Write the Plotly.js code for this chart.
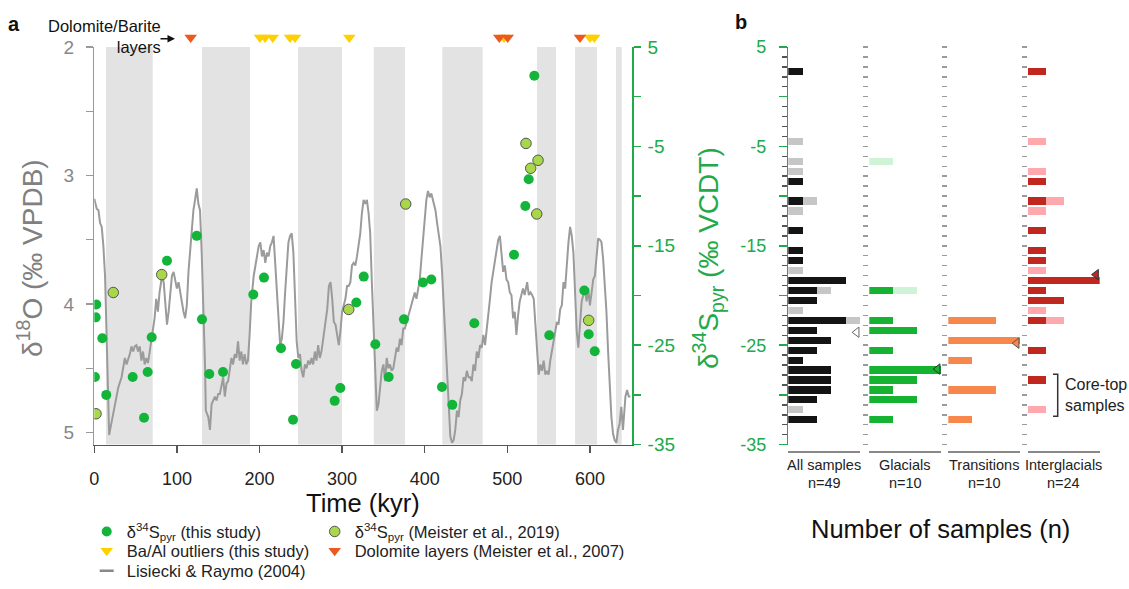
<!DOCTYPE html>
<html><head><meta charset="utf-8">
<script src="https://cdn.plot.ly/plotly-3.0.1.min.js"></script>
<style>html,body{margin:0;padding:0;background:#fff}#chart{width:1129px;height:589px}</style>
</head><body><div id="chart"></div>
<script>
// ---------- Panel a data ----------
const lrAge = [0,3,5,7,9,11,13,15,17,18,20,22,25,29,33,35,37,39,43,45,47,49,51,53,55,57,59,61,63,65,
67,69,71,73,75,77,79,82,84,86,88,90,92,94,96,98,100,102,104,106,108,110,112,114,116,118,120,122,124,126,
128,130,132,134,135,138,140,142,144,146,148,150,152,154,156,158,160,162,164,166,168,170,172,174,176,178,180,182,184,186,
188,190,193,195,197,199,201,203,205,207,209,211,213,215,217,219,221,223,225,227,229,231,233,235,237,239,241,243,245,247,
249,251,253,255,257,259,261,263,265,267,269,271,273,275,277,280,282,284,286,288,290,292,294,296,298,300,302,304,306,308,
310,312,314,316,318,320,322,324,
326,328,330,332,334,336,338,340,342,344,346,348,350,352,354,356,358,360,362,364,366,368,370,372,374,376,378,380,382,384,
386,388,390,392,394,396,398,400,402,404,406,408,410,413,415,417,419,421,423,425,427,429,431,433,435,437,439,441,443,445,
447,449,451,453,455,457,459,461,463,465,467,469,471,473,475,477,479,481,483,485,487,489,491,493,495,497,499,501,503,505,
507,509,511,513,515,517,519,521,524,526,528,530,532,534,536,538,540,542,544,546,548,550,552,554,556,558,560,562,564,566,
568,570,572,574,576,578,580,582,584,586,588,590,592,594,596,598,600,602,604,606,608,610,612,614,616,618,620,622,624,626,
628,630,632,634,636,638,640,643,645,647,649];
const lrD18O = [3.18,3.26,3.27,3.37,3.40,3.55,3.78,4.21,4.72,5.02,4.95,4.88,4.78,4.65,4.57,4.50,4.42,4.47,4.39,4.33,
4.37,4.33,4.32,4.37,4.33,4.44,4.37,4.47,4.42,4.46,4.37,4.32,4.21,4.11,3.96,4.06,3.91,3.78,3.83,4.01,
4.16,4.06,3.91,3.78,3.75,3.83,3.88,3.83,3.91,3.96,4.06,4.11,4.01,3.75,3.58,3.42,3.27,3.19,3.10,3.22,
3.27,3.60,4.01,4.47,4.83,4.88,4.98,4.78,4.75,4.72,4.75,4.70,4.70,4.62,4.57,4.72,4.62,4.60,4.52,4.42,
4.47,4.39,4.42,4.29,4.44,4.37,4.47,4.39,4.47,4.44,4.24,3.98,3.78,3.70,3.65,3.55,3.52,3.63,3.58,3.68,
3.60,3.63,3.55,3.52,3.47,3.68,3.93,4.09,4.32,4.27,4.14,3.91,3.70,3.52,3.47,3.45,3.60,3.96,4.29,4.42,
4.39,4.52,4.57,4.47,4.50,4.44,4.47,4.42,4.47,4.37,4.44,4.32,4.42,4.37,4.27,4.16,4.04,3.86,3.83,3.96,
4.14,4.16,4.24,4.32,4.21,4.06,4.01,3.96,3.86,3.86,3.83,3.70,3.68,3.70,3.63,3.55,3.45,3.29,
3.19,3.22,3.19,3.29,3.45,3.83,4.16,4.47,4.83,4.78,4.67,4.52,4.47,4.60,4.42,4.50,4.47,4.52,4.50,4.42,
4.34,4.37,4.27,4.32,4.19,4.19,4.14,4.09,4.06,4.01,3.96,3.91,3.96,3.88,3.81,3.65,3.50,3.40,3.19,3.12,
3.17,3.14,3.19,3.27,3.37,3.45,3.55,3.75,4.01,4.27,4.52,4.85,5.03,5.08,5.06,4.98,4.83,4.88,4.75,4.70,
4.57,4.60,4.52,4.57,4.57,4.60,4.47,4.52,4.37,4.42,4.32,4.34,4.24,4.32,4.21,4.11,3.96,3.83,3.75,3.68,
3.58,3.50,3.47,3.60,3.75,3.70,3.81,3.83,3.91,3.93,4.11,4.06,4.24,4.09,3.98,3.93,3.88,3.93,3.83,3.93,
3.91,3.93,3.96,4.16,4.37,4.55,4.47,4.52,4.44,4.55,4.52,4.55,4.44,4.37,4.27,4.21,4.14,4.16,4.04,4.01,
3.83,3.88,3.65,3.52,3.40,3.47,3.60,3.91,4.21,4.34,4.19,3.98,3.93,3.88,3.98,3.88,4.01,3.91,3.81,3.78,
3.65,3.49,3.50,3.52,3.65,3.83,4.06,4.37,4.67,4.88,5.01,5.06,5.08,4.98,4.93,4.80,4.98,4.72,4.67,4.72,4.72];

const thisAge  = [2.4,1.7,9.7,0.8,14.5,46.5,60.2,64.6,69.5,88.0,124.0,130.4,139.2,155.8,192.5,205.4,226.0,244.2,240.6,291.0,
297.8,317.2,326.2,340.2,356.4,374.9,397.9,408.0,420.9,433.4,460.0,508.1,550.8,593.2,598.5,605.8,532.7,525.9,521.8];
const thisD34S = [-20.9,-22.2,-24.3,-28.2,-30.0,-28.2,-32.3,-27.7,-24.2,-16.5,-14.0,-22.4,-27.9,-27.7,-19.9,-18.2,-25.3,-26.9,-32.5,-30.6,
-29.3,-20.7,-18.1,-24.9,-28.2,-22.4,-18.7,-18.4,-29.2,-31.0,-22.8,-15.9,-24.0,-19.5,-23.9,-25.6,2.1,-8.3,-11.0];
const meisterAge  = [2.1,23.0,81.6,308.0,377.0,522.6,537.2,528.3,535.6,598.5];
const meisterD34S = [-31.9,-19.7,-17.9,-21.4,-10.8,-4.7,-6.4,-7.2,-11.8,-22.5];
const baAlAge     = [200.6,206.7,216.0,236.9,243.0,308.7,496.0,600.1,605.3];
const dolomiteAge = [116.7,490.3,500.5,588.0];
const glacialStart = [14.2,130.4,246.6,338.4,421.3,536.0,582.0,631.6];
const glacialEnd   = [70.7,188.5,299.9,376.2,470.2,559.0,608.6,638.5];
const xTicks = [0,100,200,300,400,500,600];

// ---------- Panel b data (counts per 1 permil bin, bin centres) ----------
const columnNames = ['All samples','Glacials','Transitions','Interglacials'];
const columnN     = ['n=49','n=10','n=10','n=24'];
const allThisBin   = [2.5,-8.5,-10.5,-13.5,-15.5,-16.5,-18.5,-19.5,-20.5,-22.5,-23.5,-24.5,-25.5,-26.5,-27.5,-28.5,-29.5,-30.5,-32.5];
const allThisCount = [1,1,1,1,1,1,4,2,2,4,2,3,2,1,3,3,3,2,2];
const allMeisterBin   = [-4.5,-6.5,-7.5,-10.5,-11.5,-17.5,-19.5,-21.5,-22.5,-31.5];
const allMeisterCount = [1,1,1,1,1,1,1,1,1,1];
const glacThisBin   = [-19.5,-22.5,-23.5,-25.5,-27.5,-28.5,-29.5,-30.5,-32.5];
const glacThisCount = [1,1,2,1,3,2,1,2,1];
const glacMeisterBin   = [-6.5,-19.5];
const glacMeisterCount = [1,1];
const transBin   = [-22.5,-24.5,-26.5,-29.5,-32.5];
const transCount = [2,3,1,2,1];
const interThisBin   = [2.5,-8.5,-10.5,-13.5,-15.5,-16.5,-18.5,-19.5,-20.5,-22.5,-25.5,-28.5];
const interThisCount = [1,1,1,1,1,1,4,1,2,1,1,1];
const interMeisterBin   = [-4.5,-7.5,-10.5,-11.5,-17.5,-21.5,-22.5,-31.5];
const interMeisterCount = [1,1,1,1,1,1,1,1];
const columnMax   = [5,3,3,4];
const medianD34S  = [-23.7,-27.4,-24.8,-17.9];

// ---------- helpers / styles ----------
const W=1129,H=589;
const px=x=>x/W, py=y=>1-y/H;
const FONT='"Liberation Sans", Arial, sans-serif';
const GREEN='#21a94a', PT_GREEN='#12b53a';
const yDom=[py(451.5), py(47.7)];

const traces = [];
traces.push({x:lrAge,y:lrD18O,xaxis:'x',yaxis:'y',mode:'lines',line:{color:'#9b9b9b',width:2},showlegend:false,hoverinfo:'skip'});
traces.push({x:thisAge,y:thisD34S,xaxis:'x',yaxis:'y2',mode:'markers',marker:{color:PT_GREEN,size:10},
  name:'δ<sup>34</sup>S<sub>pyr</sub> (this study)',legend:'legend'});
traces.push({x:meisterAge,y:meisterD34S,xaxis:'x',yaxis:'y2',mode:'markers',marker:{color:'#a8d84a',size:10.5,line:{color:'#555',width:1}},
  name:'δ<sup>34</sup>S<sub>pyr</sub> (Meister et al., 2019)',legend:'legend2'});
// marker row above panel a lives on its own thin axis (y7)
traces.push({x:baAlAge,y:baAlAge.map(()=>0.5),xaxis:'x',yaxis:'y7',mode:'markers',cliponaxis:false,
  marker:{symbol:'triangle-down',color:'#ffd000',size:11},name:'Ba/Al outliers (this study)',legend:'legend3'});
traces.push({x:dolomiteAge,y:dolomiteAge.map(()=>0.5),xaxis:'x',yaxis:'y7',mode:'markers',cliponaxis:false,
  marker:{symbol:'triangle-down',color:'#ea5a1f',size:11},name:'Dolomite layers (Meister et al., 2007)',legend:'legend4'});
traces.push({x:[null],y:[null],xaxis:'x',yaxis:'y',mode:'markers',
  marker:{symbol:'line-ew-open',color:'#888',size:10,line:{color:'#888',width:2.5}},name:'Lisiecki & Raymo (2004)',legend:'legend5'});

function bars(xa,ya,bin,cnt,color){
  return {type:'bar',orientation:'h',x:cnt,y:bin,xaxis:xa,yaxis:ya,width:0.72,marker:{color:color,line:{width:0}},showlegend:false,hoverinfo:'skip'};
}
traces.push(bars('x3','y3',allThisBin,allThisCount,'#141414'));
traces.push(bars('x3','y3',allMeisterBin,allMeisterCount,'#c6c6c6'));
traces.push(bars('x4','y4',glacThisBin,glacThisCount,'#16b333'));
traces.push(bars('x4','y4',glacMeisterBin,glacMeisterCount,'#cff3d7'));
traces.push(bars('x5','y5',transBin,transCount,'#f7874a'));
traces.push(bars('x6','y6',interThisBin,interThisCount,'#c0281f'));
traces.push(bars('x6','y6',interMeisterBin,interMeisterCount,'#ffa8ae'));
const medFill=['#ffffff','#16b333','#f7874a','#c0281f'];
const medLine=['#666','#333','#555','#333'];
for(let i=0;i<4;i++){
  traces.push({x:[columnMax[i]*0.95],y:[medianD34S[i]],xaxis:'x'+(i+3),yaxis:'y'+(i+3),mode:'markers',cliponaxis:false,
    marker:{symbol:'triangle-left',size:9,color:medFill[i],line:{color:medLine[i],width:1}},showlegend:false,hoverinfo:'skip'});
}

const colDom=[[788.3,860.3],[869.3,941.3],[948.3,1020.3],[1027.7,1099.7]];
const layout = {
  width:W,height:H,margin:{l:0,r:0,t:0,b:0},paper_bgcolor:'#fff',plot_bgcolor:'rgba(0,0,0,0)',
  font:{family:FONT,color:'#222'},barmode:'stack',showlegend:true,hovermode:false,
  xaxis:{domain:[px(94.3),px(632.3)],range:[0,651.3],anchor:'y',tickmode:'array',tickvals:xTicks,ticks:'outside',ticklen:7,tickwidth:1.3,
    tickcolor:'#555',showline:true,linecolor:'#555',linewidth:1.3,showgrid:false,zeroline:false,tickfont:{size:18,color:'#222'},ticklabelstandoff:10},
  yaxis:{domain:yDom,range:[5.094,2],anchor:'x',tickmode:'array',tickvals:[2,2.5,3,3.5,4,4.5,5],ticktext:['2','','3','','4','','5'],
    ticks:'outside',ticklen:7,tickwidth:1.3,tickcolor:'#999',showline:true,linecolor:'#999',linewidth:1.3,showgrid:false,zeroline:false,
    tickfont:{size:19,color:'#888'},ticklabelstandoff:8},
  yaxis2:{overlaying:'y',side:'right',anchor:'x',range:[-35,5],tickmode:'array',tickvals:[5,0,-5,-10,-15,-20,-25,-30,-35],
    ticktext:['5','','-5','','-15','','-25','','-35'],ticks:'outside',ticklen:7,tickwidth:1.5,tickcolor:GREEN,showline:true,linecolor:GREEN,
    linewidth:1.5,showgrid:false,zeroline:false,tickfont:{size:19,color:GREEN},ticklabelstandoff:3},
  yaxis7:{domain:[py(46),py(30)],range:[0,1],anchor:'x',visible:false,fixedrange:true},
  shapes:[],annotations:[]
};
for(let i=0;i<4;i++){
  const n=i+3;
  layout['xaxis'+n]={domain:[px(colDom[i][0]),px(colDom[i][1])],range:[0,columnMax[i]],anchor:'free',position:py(458),
    tickmode:'array',tickvals:[0,columnMax[i]],ticks:'inside',ticklen:6,tickwidth:1.5,tickcolor:'#888',showticklabels:false,
    showline:true,linecolor:'#888',linewidth:1.5,showgrid:false,zeroline:false};
  if(i===0){
    layout['yaxis'+n]={domain:yDom,range:[-35,5],anchor:'x'+n,tickmode:'array',tickvals:[5,0,-5,-10,-15,-20,-25,-30,-35],
      ticktext:['5','','-5','','-15','','-25','','-35'],ticks:'outside',ticklen:8,tickwidth:1.5,tickcolor:GREEN,showline:true,
      linecolor:GREEN,linewidth:1.5,showgrid:false,zeroline:false,tickfont:{size:18,color:GREEN},ticklabelstandoff:9,
      minor:{tickmode:'linear',tick0:0,dtick:1,ticks:'outside',ticklen:5,tickwidth:1.5,tickcolor:'#555',showgrid:false}};
  } else {
    layout['yaxis'+n]={domain:yDom,range:[-35,5],anchor:'x'+n,tickmode:'linear',tick0:5,dtick:1,ticks:'outside',ticklen:5,tickwidth:1.5,
      tickcolor:'#9a9a9a',showline:false,showticklabels:false,showgrid:false,zeroline:false};
  }
  const cx=px((colDom[i][0]+colDom[i][1])/2);
  layout.annotations.push({xref:'paper',yref:'paper',x:cx,y:py(472.7),text:columnNames[i],showarrow:false,xanchor:'center',yanchor:'middle',font:{size:14.5,color:'#222'}});
  layout.annotations.push({xref:'paper',yref:'paper',x:cx,y:py(490),text:columnN[i],showarrow:false,xanchor:'center',yanchor:'middle',font:{size:14.5,color:'#222'}});
}
for(let i=0;i<glacialStart.length;i++){
  layout.shapes.push({type:'rect',xref:'x',yref:'y domain',x0:glacialStart[i],x1:glacialEnd[i],y0:0,y1:1,fillcolor:'#e3e3e3',line:{width:0},layer:'below'});
}
// core-top bracket
layout.shapes.push({type:'path',xref:'paper',yref:'paper',
  path:`M ${px(1053)},${py(380)} L ${px(1057.7)},${py(380)} L ${px(1057.7)},${py(422.7)} L ${px(1053)},${py(422.7)}`,
  line:{color:'#333',width:1.5}});

const ann=(o)=>layout.annotations.push(Object.assign({xref:'paper',yref:'paper',showarrow:false,xanchor:'center',yanchor:'middle'},o));
ann({x:px(14),y:py(24),text:'<b>a</b>',font:{size:20,color:'#111'}});
ann({x:px(741),y:py(22),text:'<b>b</b>',font:{size:20,color:'#111'}});
ann({x:px(163.3),y:py(36.7),xanchor:'right',align:'right',text:'Dolomite/Barite<br>layers',font:{size:16.5,color:'#111'}});
layout.annotations.push({xref:'paper',yref:'paper',x:px(175),y:py(39.3),text:'',showarrow:true,arrowhead:2,arrowsize:1,arrowwidth:1.5,
  arrowcolor:'#111',ax:-16,ay:0,standoff:0,startstandoff:0});
ann({x:px(30),y:py(262),textangle:-90,text:'δ<sup>18</sup>O (‰ VPDB)',font:{size:28,color:'#808080'}});
ann({x:px(708),y:py(262),textangle:-90,text:'δ<sup>34</sup>S<sub>pyr</sub> (‰ VCDT)',font:{size:28,color:GREEN}});
ann({x:px(363.3),y:py(510.7),text:'Time (kyr)',font:{size:25.5,color:'#111'}});
ann({x:px(940),y:py(537),text:'Number of samples (n)',font:{size:25.5,color:'#111'}});
ann({x:px(1063),y:py(401.2),xanchor:'left',align:'left',text:'Core-top<br>samples',font:{size:16,color:'#222'}});

const legBase={xanchor:'left',yanchor:'middle',bgcolor:'rgba(0,0,0,0)',borderwidth:0,itemwidth:30,font:{size:16.5,color:'#222'}};
layout.legend =Object.assign({},legBase,{x:px(86.7),y:py(540)});
layout.legend2=Object.assign({},legBase,{x:px(314.7),y:py(540)});
layout.legend3=Object.assign({},legBase,{x:px(86.7),y:py(559.5)});
layout.legend4=Object.assign({},legBase,{x:px(314.7),y:py(559.5)});
layout.legend5=Object.assign({},legBase,{x:px(86.7),y:py(580)});

Plotly.newPlot('chart',traces,layout,{displayModeBar:false,staticPlot:true});
</script></body></html>
